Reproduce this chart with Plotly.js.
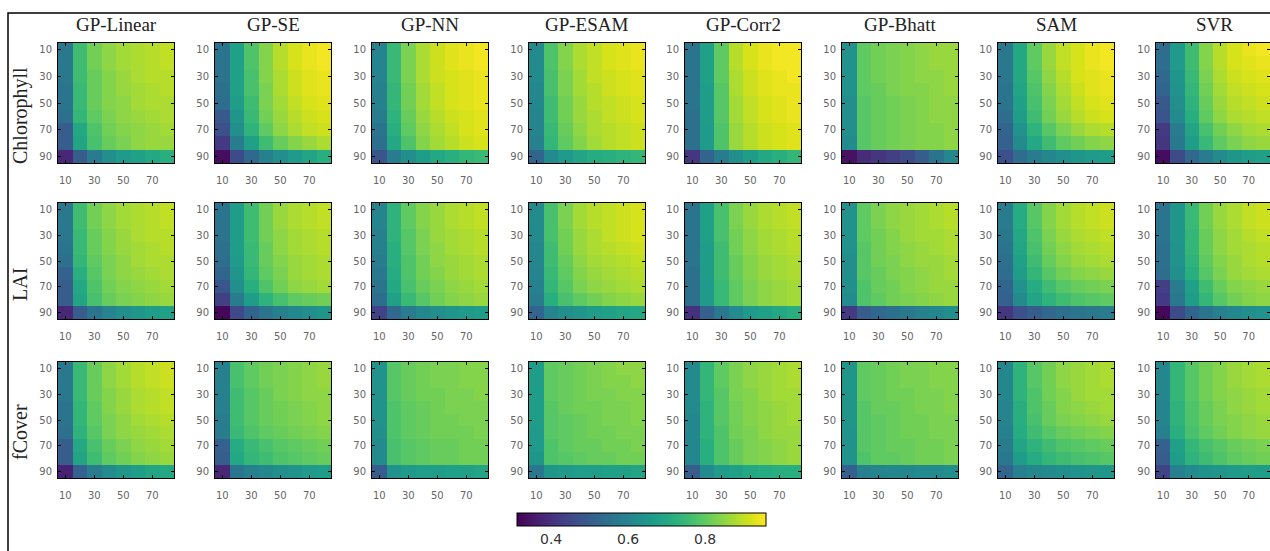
<!DOCTYPE html>
<html>
<head>
<meta charset="utf-8">
<script src="https://cdn.plot.ly/plotly-3.0.1.min.js"></script>
<style>html,body{margin:0;padding:0;background:#fff;}#chart{width:1270px;height:551px;}</style>
</head>
<body>
<div id="chart"></div>
<script>
// ---------- data ----------
const X_VALUES = [10, 20, 30, 40, 50, 60, 70, 80];
const Y_VALUES = [10, 20, 30, 40, 50, 60, 70, 80, 90];
const X_TICKS = [10, 30, 50, 70];
const Y_TICKS = [10, 30, 50, 70, 90];
const METHODS = ["GP-Linear", "GP-SE", "GP-NN", "GP-ESAM", "GP-Corr2", "GP-Bhatt", "SAM", "SVR"];
const VARIABLES = ["Chlorophyll", "LAI", "fCover"];
const CBAR_TICKS = [0.4, 0.6, 0.8];
const C_MIN = 0.31, C_MAX = 0.96;

// Chlorophyll
const CHL_GP_LINEAR = [
[0.57,0.76,0.82,0.85,0.87,0.88,0.89,0.90],
[0.57,0.76,0.82,0.85,0.87,0.88,0.89,0.90],
[0.57,0.76,0.81,0.84,0.86,0.88,0.89,0.89],
[0.56,0.75,0.81,0.84,0.86,0.87,0.88,0.89],
[0.56,0.75,0.81,0.84,0.85,0.87,0.88,0.88],
[0.55,0.74,0.80,0.83,0.85,0.86,0.87,0.88],
[0.50,0.70,0.78,0.82,0.84,0.85,0.86,0.87],
[0.50,0.69,0.77,0.81,0.83,0.85,0.86,0.86],
[0.38,0.50,0.58,0.63,0.66,0.68,0.70,0.72]];
const CHL_GP_SE = [
[0.56,0.68,0.78,0.84,0.89,0.92,0.94,0.95],
[0.56,0.68,0.78,0.84,0.89,0.92,0.94,0.95],
[0.56,0.68,0.77,0.84,0.88,0.91,0.93,0.94],
[0.55,0.68,0.77,0.83,0.88,0.91,0.93,0.94],
[0.54,0.67,0.76,0.83,0.87,0.90,0.92,0.93],
[0.49,0.65,0.75,0.82,0.86,0.89,0.91,0.92],
[0.47,0.63,0.73,0.80,0.85,0.88,0.90,0.91],
[0.42,0.58,0.68,0.76,0.81,0.84,0.86,0.88],
[0.33,0.46,0.53,0.59,0.63,0.66,0.69,0.72]];
const CHL_GP_NN = [
[0.60,0.75,0.83,0.88,0.91,0.93,0.94,0.95],
[0.60,0.75,0.83,0.88,0.91,0.93,0.94,0.95],
[0.60,0.75,0.83,0.88,0.91,0.92,0.93,0.94],
[0.59,0.74,0.82,0.87,0.90,0.92,0.93,0.94],
[0.59,0.74,0.82,0.87,0.90,0.92,0.93,0.94],
[0.58,0.73,0.81,0.86,0.89,0.91,0.92,0.93],
[0.56,0.72,0.80,0.85,0.88,0.90,0.92,0.93],
[0.55,0.70,0.78,0.84,0.87,0.89,0.91,0.92],
[0.48,0.58,0.63,0.67,0.70,0.72,0.74,0.75]];
const CHL_GP_ESAM = [
[0.62,0.78,0.84,0.88,0.90,0.92,0.93,0.94],
[0.62,0.78,0.84,0.88,0.90,0.92,0.93,0.94],
[0.62,0.77,0.83,0.87,0.90,0.91,0.92,0.93],
[0.61,0.77,0.83,0.87,0.89,0.91,0.92,0.93],
[0.61,0.76,0.82,0.86,0.89,0.90,0.91,0.92],
[0.60,0.76,0.82,0.86,0.88,0.90,0.91,0.92],
[0.60,0.75,0.81,0.85,0.88,0.89,0.90,0.91],
[0.59,0.74,0.80,0.84,0.87,0.89,0.90,0.91],
[0.52,0.62,0.66,0.69,0.71,0.72,0.73,0.74]];
const CHL_GP_CORR2 = [
[0.56,0.68,0.80,0.89,0.92,0.94,0.95,0.95],
[0.56,0.68,0.80,0.89,0.92,0.94,0.95,0.95],
[0.56,0.68,0.80,0.88,0.91,0.93,0.94,0.95],
[0.56,0.67,0.79,0.88,0.91,0.93,0.94,0.94],
[0.56,0.67,0.79,0.87,0.90,0.92,0.93,0.94],
[0.55,0.67,0.79,0.87,0.90,0.92,0.93,0.94],
[0.55,0.66,0.78,0.86,0.89,0.91,0.92,0.93],
[0.55,0.66,0.78,0.86,0.89,0.91,0.92,0.93],
[0.41,0.52,0.58,0.63,0.67,0.70,0.72,0.74]];
const CHL_GP_BHATT = [
[0.64,0.80,0.82,0.83,0.84,0.85,0.86,0.86],
[0.64,0.80,0.82,0.83,0.84,0.85,0.86,0.86],
[0.64,0.80,0.82,0.83,0.84,0.85,0.85,0.86],
[0.64,0.80,0.81,0.83,0.84,0.84,0.85,0.86],
[0.63,0.79,0.81,0.82,0.83,0.84,0.85,0.85],
[0.63,0.79,0.81,0.82,0.83,0.84,0.85,0.85],
[0.63,0.79,0.81,0.82,0.83,0.84,0.84,0.85],
[0.62,0.79,0.81,0.82,0.83,0.84,0.84,0.85],
[0.34,0.39,0.41,0.43,0.46,0.50,0.56,0.61]];
const CHL_SAM = [
[0.57,0.70,0.80,0.86,0.90,0.92,0.94,0.95],
[0.57,0.70,0.80,0.86,0.90,0.92,0.94,0.95],
[0.57,0.70,0.79,0.85,0.89,0.92,0.93,0.94],
[0.56,0.69,0.78,0.84,0.88,0.91,0.93,0.94],
[0.56,0.68,0.77,0.83,0.87,0.90,0.92,0.93],
[0.54,0.67,0.76,0.82,0.86,0.89,0.91,0.92],
[0.52,0.64,0.73,0.79,0.83,0.86,0.88,0.89],
[0.51,0.62,0.70,0.76,0.80,0.82,0.84,0.85],
[0.47,0.54,0.58,0.61,0.63,0.65,0.66,0.67]];
const CHL_SVR = [
[0.54,0.66,0.76,0.84,0.89,0.92,0.94,0.95],
[0.54,0.66,0.76,0.84,0.89,0.92,0.93,0.94],
[0.53,0.65,0.75,0.83,0.88,0.91,0.92,0.93],
[0.52,0.64,0.74,0.82,0.87,0.90,0.91,0.92],
[0.49,0.63,0.73,0.81,0.86,0.89,0.90,0.91],
[0.48,0.62,0.72,0.80,0.85,0.88,0.89,0.90],
[0.42,0.58,0.69,0.77,0.82,0.85,0.87,0.88],
[0.41,0.57,0.67,0.75,0.80,0.83,0.85,0.86],
[0.33,0.46,0.53,0.58,0.62,0.65,0.67,0.68]];

// LAI
const LAI_GP_LINEAR = [
[0.57,0.76,0.82,0.85,0.87,0.88,0.89,0.90],
[0.57,0.76,0.82,0.85,0.87,0.88,0.89,0.90],
[0.57,0.75,0.81,0.84,0.86,0.88,0.89,0.89],
[0.56,0.75,0.81,0.84,0.86,0.87,0.88,0.89],
[0.55,0.74,0.80,0.83,0.85,0.87,0.88,0.88],
[0.51,0.72,0.79,0.83,0.85,0.86,0.87,0.88],
[0.50,0.70,0.78,0.82,0.84,0.85,0.86,0.87],
[0.50,0.69,0.77,0.81,0.83,0.84,0.85,0.86],
[0.38,0.50,0.56,0.60,0.63,0.65,0.67,0.68]];
const LAI_GP_SE = [
[0.56,0.67,0.76,0.82,0.86,0.88,0.89,0.90],
[0.56,0.67,0.76,0.82,0.86,0.88,0.89,0.90],
[0.56,0.67,0.76,0.82,0.85,0.87,0.88,0.89],
[0.55,0.67,0.75,0.81,0.85,0.87,0.88,0.89],
[0.54,0.66,0.75,0.81,0.84,0.86,0.87,0.88],
[0.52,0.65,0.74,0.80,0.83,0.86,0.87,0.88],
[0.48,0.63,0.72,0.78,0.82,0.85,0.86,0.87],
[0.43,0.58,0.67,0.73,0.77,0.80,0.81,0.82],
[0.32,0.45,0.52,0.56,0.59,0.61,0.63,0.65]];
const LAI_GP_NN = [
[0.60,0.73,0.80,0.84,0.86,0.88,0.89,0.90],
[0.60,0.73,0.80,0.84,0.86,0.88,0.89,0.90],
[0.59,0.73,0.79,0.83,0.86,0.87,0.88,0.89],
[0.59,0.72,0.79,0.83,0.85,0.87,0.88,0.89],
[0.58,0.72,0.78,0.82,0.85,0.86,0.87,0.88],
[0.57,0.71,0.78,0.82,0.84,0.86,0.87,0.88],
[0.56,0.70,0.77,0.81,0.83,0.85,0.86,0.87],
[0.54,0.68,0.75,0.79,0.82,0.84,0.85,0.86],
[0.44,0.53,0.58,0.61,0.63,0.65,0.66,0.67]];
const LAI_GP_ESAM = [
[0.62,0.77,0.83,0.87,0.89,0.90,0.91,0.92],
[0.62,0.77,0.83,0.87,0.89,0.90,0.91,0.92],
[0.62,0.77,0.82,0.86,0.88,0.90,0.91,0.92],
[0.61,0.76,0.82,0.86,0.88,0.89,0.90,0.91],
[0.61,0.76,0.81,0.85,0.87,0.88,0.89,0.90],
[0.60,0.75,0.80,0.84,0.86,0.87,0.88,0.89],
[0.59,0.74,0.79,0.83,0.85,0.86,0.87,0.88],
[0.58,0.72,0.77,0.80,0.82,0.84,0.85,0.86],
[0.52,0.60,0.63,0.65,0.67,0.68,0.69,0.70]];
const LAI_GP_CORR2 = [
[0.56,0.68,0.77,0.83,0.86,0.88,0.89,0.90],
[0.56,0.68,0.77,0.83,0.86,0.88,0.89,0.90],
[0.56,0.68,0.77,0.82,0.85,0.87,0.88,0.89],
[0.56,0.67,0.76,0.82,0.85,0.87,0.88,0.89],
[0.56,0.67,0.76,0.81,0.84,0.86,0.87,0.88],
[0.55,0.67,0.76,0.81,0.84,0.86,0.87,0.88],
[0.55,0.66,0.75,0.80,0.83,0.85,0.86,0.87],
[0.55,0.66,0.75,0.80,0.83,0.85,0.86,0.87],
[0.40,0.51,0.57,0.62,0.66,0.68,0.70,0.72]];
const LAI_GP_BHATT = [
[0.64,0.80,0.83,0.85,0.86,0.87,0.88,0.89],
[0.64,0.80,0.83,0.85,0.86,0.87,0.88,0.89],
[0.64,0.80,0.82,0.84,0.86,0.87,0.87,0.88],
[0.64,0.79,0.82,0.84,0.85,0.86,0.87,0.88],
[0.63,0.79,0.82,0.83,0.85,0.86,0.86,0.87],
[0.63,0.79,0.81,0.83,0.84,0.85,0.86,0.87],
[0.63,0.78,0.81,0.82,0.84,0.85,0.86,0.86],
[0.62,0.78,0.80,0.82,0.83,0.84,0.85,0.86],
[0.42,0.50,0.53,0.55,0.57,0.59,0.61,0.63]];
const LAI_SAM = [
[0.58,0.71,0.79,0.84,0.87,0.89,0.90,0.91],
[0.58,0.71,0.79,0.84,0.87,0.89,0.90,0.91],
[0.57,0.70,0.78,0.83,0.86,0.88,0.89,0.90],
[0.56,0.69,0.77,0.82,0.85,0.87,0.88,0.89],
[0.55,0.68,0.76,0.81,0.84,0.86,0.87,0.88],
[0.54,0.67,0.74,0.79,0.82,0.84,0.85,0.86],
[0.52,0.64,0.71,0.76,0.79,0.81,0.82,0.83],
[0.51,0.62,0.69,0.73,0.76,0.78,0.79,0.80],
[0.41,0.47,0.50,0.53,0.55,0.56,0.57,0.58]];
const LAI_SVR = [
[0.56,0.65,0.75,0.82,0.86,0.88,0.90,0.91],
[0.56,0.65,0.75,0.82,0.86,0.88,0.90,0.91],
[0.56,0.65,0.74,0.81,0.85,0.87,0.89,0.90],
[0.55,0.64,0.74,0.81,0.85,0.87,0.88,0.89],
[0.55,0.64,0.73,0.80,0.84,0.86,0.88,0.89],
[0.54,0.63,0.72,0.79,0.83,0.86,0.87,0.88],
[0.43,0.58,0.68,0.76,0.81,0.84,0.85,0.86],
[0.42,0.57,0.67,0.74,0.79,0.82,0.84,0.85],
[0.32,0.46,0.52,0.56,0.59,0.61,0.63,0.64]];

// fCover
const FC_GP_LINEAR = [
[0.57,0.75,0.81,0.85,0.87,0.89,0.90,0.91],
[0.57,0.75,0.81,0.85,0.87,0.89,0.90,0.91],
[0.57,0.75,0.81,0.84,0.86,0.88,0.89,0.90],
[0.56,0.74,0.80,0.84,0.86,0.88,0.89,0.90],
[0.56,0.74,0.80,0.83,0.85,0.87,0.88,0.89],
[0.55,0.73,0.79,0.83,0.85,0.86,0.87,0.88],
[0.50,0.70,0.77,0.81,0.83,0.85,0.86,0.87],
[0.50,0.69,0.76,0.80,0.82,0.84,0.85,0.86],
[0.37,0.51,0.58,0.62,0.65,0.67,0.69,0.70]];
const FC_GP_SE = [
[0.59,0.77,0.80,0.82,0.83,0.84,0.85,0.86],
[0.59,0.77,0.80,0.82,0.83,0.84,0.85,0.86],
[0.59,0.76,0.79,0.81,0.83,0.84,0.85,0.85],
[0.59,0.76,0.79,0.81,0.82,0.83,0.84,0.85],
[0.58,0.76,0.79,0.81,0.82,0.83,0.84,0.85],
[0.58,0.75,0.78,0.80,0.81,0.82,0.83,0.84],
[0.51,0.71,0.75,0.77,0.79,0.80,0.81,0.82],
[0.50,0.70,0.74,0.76,0.78,0.79,0.80,0.81],
[0.38,0.56,0.59,0.61,0.63,0.64,0.66,0.67]];
const FC_GP_NN = [
[0.64,0.79,0.81,0.82,0.83,0.83,0.84,0.84],
[0.64,0.79,0.81,0.82,0.83,0.83,0.84,0.84],
[0.64,0.79,0.81,0.82,0.82,0.83,0.83,0.84],
[0.64,0.78,0.80,0.81,0.82,0.83,0.83,0.83],
[0.64,0.78,0.80,0.81,0.82,0.82,0.83,0.83],
[0.63,0.78,0.80,0.81,0.82,0.82,0.82,0.83],
[0.62,0.77,0.79,0.80,0.81,0.81,0.82,0.82],
[0.62,0.77,0.79,0.80,0.81,0.81,0.82,0.82],
[0.50,0.64,0.66,0.67,0.67,0.68,0.68,0.69]];
const FC_GP_ESAM = [
[0.67,0.80,0.81,0.82,0.83,0.84,0.85,0.85],
[0.67,0.80,0.81,0.82,0.83,0.84,0.84,0.85],
[0.67,0.80,0.81,0.82,0.83,0.83,0.84,0.84],
[0.67,0.79,0.81,0.82,0.82,0.83,0.83,0.84],
[0.67,0.79,0.80,0.81,0.82,0.83,0.83,0.84],
[0.66,0.79,0.80,0.81,0.82,0.82,0.83,0.83],
[0.66,0.78,0.80,0.81,0.81,0.82,0.82,0.83],
[0.65,0.78,0.79,0.80,0.81,0.81,0.82,0.82],
[0.57,0.65,0.66,0.67,0.67,0.68,0.68,0.69]];
const FC_GP_CORR2 = [
[0.62,0.74,0.80,0.83,0.85,0.86,0.87,0.88],
[0.62,0.74,0.80,0.83,0.85,0.86,0.87,0.88],
[0.62,0.74,0.79,0.83,0.84,0.86,0.87,0.87],
[0.62,0.73,0.79,0.82,0.84,0.85,0.86,0.87],
[0.61,0.73,0.79,0.82,0.84,0.85,0.86,0.87],
[0.61,0.73,0.78,0.82,0.83,0.85,0.86,0.86],
[0.61,0.72,0.78,0.81,0.83,0.84,0.85,0.86],
[0.61,0.72,0.78,0.81,0.83,0.84,0.85,0.86],
[0.50,0.62,0.66,0.68,0.70,0.71,0.72,0.72]];
const FC_GP_BHATT = [
[0.65,0.80,0.81,0.82,0.83,0.83,0.84,0.84],
[0.65,0.80,0.81,0.82,0.83,0.83,0.84,0.84],
[0.65,0.80,0.81,0.82,0.82,0.83,0.83,0.84],
[0.65,0.79,0.81,0.81,0.82,0.83,0.83,0.84],
[0.65,0.79,0.80,0.81,0.82,0.82,0.83,0.83],
[0.64,0.79,0.80,0.81,0.82,0.82,0.83,0.83],
[0.64,0.79,0.80,0.81,0.81,0.82,0.82,0.83],
[0.64,0.78,0.80,0.80,0.81,0.82,0.82,0.83],
[0.51,0.59,0.60,0.61,0.61,0.62,0.62,0.63]];
const FC_SAM = [
[0.61,0.73,0.79,0.82,0.85,0.86,0.87,0.88],
[0.61,0.73,0.79,0.82,0.85,0.86,0.87,0.88],
[0.61,0.73,0.78,0.82,0.84,0.86,0.87,0.87],
[0.60,0.72,0.78,0.81,0.84,0.85,0.86,0.87],
[0.60,0.72,0.77,0.81,0.83,0.84,0.85,0.86],
[0.59,0.71,0.76,0.79,0.81,0.82,0.83,0.84],
[0.58,0.69,0.73,0.76,0.78,0.79,0.80,0.81],
[0.57,0.67,0.71,0.74,0.76,0.77,0.78,0.79],
[0.52,0.59,0.61,0.62,0.63,0.64,0.65,0.65]];
const FC_SVR = [
[0.61,0.74,0.79,0.82,0.84,0.86,0.87,0.88],
[0.61,0.74,0.79,0.82,0.84,0.86,0.87,0.88],
[0.61,0.74,0.79,0.82,0.84,0.85,0.86,0.87],
[0.60,0.73,0.78,0.81,0.83,0.85,0.86,0.87],
[0.60,0.73,0.78,0.81,0.83,0.84,0.85,0.86],
[0.59,0.72,0.77,0.80,0.82,0.84,0.85,0.86],
[0.51,0.68,0.74,0.77,0.79,0.81,0.82,0.83],
[0.50,0.67,0.73,0.76,0.78,0.80,0.81,0.82],
[0.44,0.59,0.62,0.64,0.65,0.66,0.67,0.67]];

const PANELS = [
  [CHL_GP_LINEAR, CHL_GP_SE, CHL_GP_NN, CHL_GP_ESAM, CHL_GP_CORR2, CHL_GP_BHATT, CHL_SAM, CHL_SVR],
  [LAI_GP_LINEAR, LAI_GP_SE, LAI_GP_NN, LAI_GP_ESAM, LAI_GP_CORR2, LAI_GP_BHATT, LAI_SAM, LAI_SVR],
  [FC_GP_LINEAR, FC_GP_SE, FC_GP_NN, FC_GP_ESAM, FC_GP_CORR2, FC_GP_BHATT, FC_SAM, FC_SVR]
];

// ---------- layout geometry (pixels) ----------
const W = 1270, H = 551;
const COL_LEFT = [58, 215, 372, 529, 685, 842, 998, 1156];
const PANEL_W = 116;
const ROW_TOP = [43, 203, 362];
const ROW_BOT = [163, 319, 478];
const ROW_LABEL_Y = [116, 285, 432];
const CB_LEFT = 517, CB_RIGHT = 766, CB_TOP = 513, CB_THICK = 13, CB_LABEL_Y = 539;

const px = v => v / W;
const py = v => 1 - v / H;

const traces = [];
const layout = {
  width: W, height: H,
  margin: {l: 0, r: 0, t: 0, b: 0, autoexpand: false},
  paper_bgcolor: '#fff', plot_bgcolor: '#fff',
  showlegend: false,
  font: {family: 'DejaVu Sans, sans-serif', color: '#555'},
  coloraxis: {
    colorscale: 'Viridis', cmin: C_MIN, cmax: C_MAX,
    colorbar: {
      orientation: 'h',
      x: px((CB_LEFT + CB_RIGHT) / 2), xanchor: 'center',
      y: py(CB_TOP), yanchor: 'top',
      len: CB_RIGHT - CB_LEFT, lenmode: 'pixels',
      thickness: CB_THICK, thicknessmode: 'pixels',
      outlinewidth: 1, outlinecolor: '#000',
      xpad: 0, ypad: 0,
      tickvals: CBAR_TICKS,
      ticks: '', showticklabels: false
    }
  },
  annotations: [],
  shapes: [{
    type: 'rect', xref: 'paper', yref: 'paper',
    x0: px(8), x1: px(1290), y0: py(570), y1: py(13),
    line: {color: '#000', width: 1.5}, fillcolor: 'rgba(0,0,0,0)'
  }]
};

let k = 0;
for (let r = 0; r < 3; r++) {
  for (let c = 0; c < 8; c++) {
    k++;
    const sfx = (k === 1 ? '' : String(k));
    traces.push({
      type: 'heatmap',
      x: X_VALUES, y: Y_VALUES, z: PANELS[r][c],
      coloraxis: 'coloraxis',
      xaxis: 'x' + sfx, yaxis: 'y' + sfx,
      hoverinfo: 'skip'
    });
    const axCommon = {
      showline: true, linecolor: '#000', linewidth: 1, mirror: 'ticks',
      ticks: 'inside', ticklen: 3, tickcolor: '#000', tickwidth: 1,
      showgrid: false, zeroline: false, fixedrange: true, automargin: false,
      tickfont: {size: 10, color: '#666', family: 'DejaVu Sans, sans-serif'}
    };
    layout['xaxis' + sfx] = Object.assign({}, axCommon, {
      domain: [px(COL_LEFT[c]), px(COL_LEFT[c] + PANEL_W)],
      anchor: 'y' + sfx,
      range: [5, 85], tickvals: X_TICKS,
      ticklabelstandoff: 8
    });
    layout['yaxis' + sfx] = Object.assign({}, axCommon, {
      domain: [py(ROW_BOT[r]), py(ROW_TOP[r])],
      anchor: 'x' + sfx,
      range: [95, 5], tickvals: Y_TICKS,
      ticklabelstandoff: 3
    });
  }
}

// column titles
METHODS.forEach((m, c) => {
  layout.annotations.push({
    text: m, xref: 'paper', yref: 'paper',
    x: px(COL_LEFT[c] + PANEL_W / 2), y: py(24),
    xanchor: 'center', yanchor: 'middle', showarrow: false,
    font: {family: 'Liberation Serif, serif', size: 19, color: '#222'}
  });
});
// row labels
VARIABLES.forEach((v, r) => {
  layout.annotations.push({
    text: v, xref: 'paper', yref: 'paper',
    x: px(20), y: py(ROW_LABEL_Y[r]),
    xanchor: 'center', yanchor: 'middle', showarrow: false, textangle: -90,
    font: {family: 'Liberation Serif, serif', size: 20, color: '#222'}
  });
});
// colour-bar tick labels, placed along the bar by value
CBAR_TICKS.forEach(t => {
  const xpx = CB_LEFT + (t - C_MIN) / (C_MAX - C_MIN) * (CB_RIGHT - CB_LEFT);
  layout.annotations.push({
    text: t.toFixed(1), xref: 'paper', yref: 'paper',
    x: px(xpx), y: py(CB_LABEL_Y),
    xanchor: 'center', yanchor: 'middle', showarrow: false,
    font: {family: 'DejaVu Sans, sans-serif', size: 14, color: '#333'}
  });
});

Plotly.newPlot('chart', traces, layout, {staticPlot: true, displayModeBar: false});
</script>
</body>
</html>
